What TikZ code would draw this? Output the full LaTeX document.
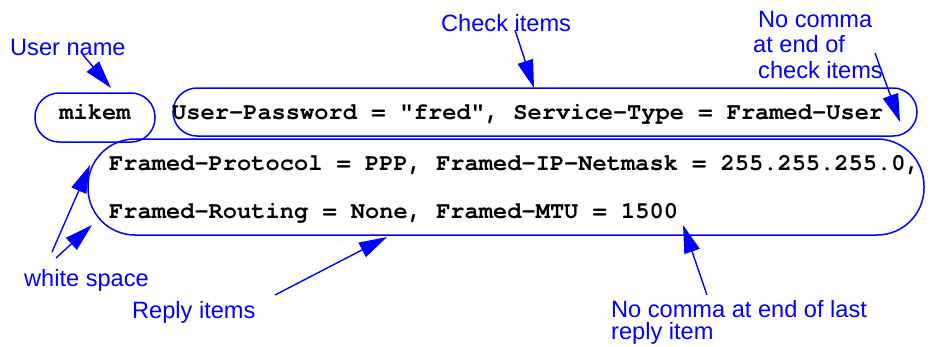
\documentclass[tikz,border=0pt]{standalone}
\usepackage{fontspec}
\setmainfont{Liberation Sans}
\setmonofont{texgyrecursor-regular.otf}[BoldFont=texgyrecursor-bold.otf]
\usetikzlibrary{arrows.meta}
\definecolor{lblue}{RGB}{0,0,255}
\begin{document}
\begin{tikzpicture}[x=1pt,y=-1pt,
  box/.style={draw=lblue,line width=1.5pt,inner sep=0pt},
  code/.style={inner sep=0pt,anchor=base west,font=\fontsize{23.7}{26}\selectfont\ttfamily\bfseries},
  lbl/.style={inner sep=0pt,anchor=base west,text=lblue,align=left,font=\fontsize{23.6}{25.5}\selectfont},
  pointer/.style={draw=lblue,line width=1.4pt,-{Triangle[length=28pt,width=16pt]}}]
\useasboundingbox (0,0) rectangle (932,346);

% rounded frames
\node[box,rounded corners=24pt,minimum width=120pt,minimum height=49pt] (userbox) at (95,117.5) {};
\node[box,rounded corners=24pt,minimum width=744pt,minimum height=48pt] (checkbox) at (545,112) {};
\node[box,rounded corners=47pt,minimum width=836pt,minimum height=96pt] (replybox) at (506,187) {};

% entry text
\node[code,anchor=base] (user) at (95,119) {mikem};
\node[code] (check) at (172,119) {User-Password = "fred", Service-Type = Framed-User};
\node[code] (reply1) at (109,170) {Framed-Protocol = PPP, Framed-IP-Netmask = 255.255.255.0,};
\node[code] (reply2) at (109,218) {Framed-Routing = None, Framed-MTU = 1500};

% annotations (multi-line nodes sit on the baseline of their last line)
\node[lbl] (lusername) at (10,55) {User name};
\node[lbl] (lcheck) at (441,31) {Check items};
\node[lbl] (lnocomma) at (753,78) {\hspace*{5pt}No comma\\at end of\\\hspace*{5pt}check items};
\node[lbl] (lwhite) at (24,286) {white space};
\node[lbl] (lreply) at (132,318) {Reply items};
\node[lbl,font=\fontsize{23.6}{21.5}\selectfont] (lnolast) at (611,339) {No comma at end of last\\reply item};

% arrow ends
\coordinate (a1s) at (83,55);   \coordinate (a1t) at (111,88);
\coordinate (a2s) at (515,30);  \coordinate (a2t) at (534,88);
\coordinate (a3s) at (875,53);  \coordinate (a3t) at (900,122);
\coordinate (a4s) at (52,252);  \coordinate (a4t) at (90,165);
\coordinate (a5s) at (56,258);  \coordinate (a5t) at (92,225);
\coordinate (a6s) at (275,295); \coordinate (a6t) at (387,237);
\coordinate (a7s) at (707,295); \coordinate (a7t) at (683,225);

\draw[pointer] (a1s) -- (a1t);
\draw[pointer] (a2s) -- (a2t);
\draw[pointer] (a3s) -- (a3t);
\draw[pointer] (a4s) -- (a4t);
\draw[pointer] (a5s) -- (a5t);
\draw[pointer] (a6s) -- (a6t);
\draw[pointer] (a7s) -- (a7t);
\end{tikzpicture}
\end{document}
